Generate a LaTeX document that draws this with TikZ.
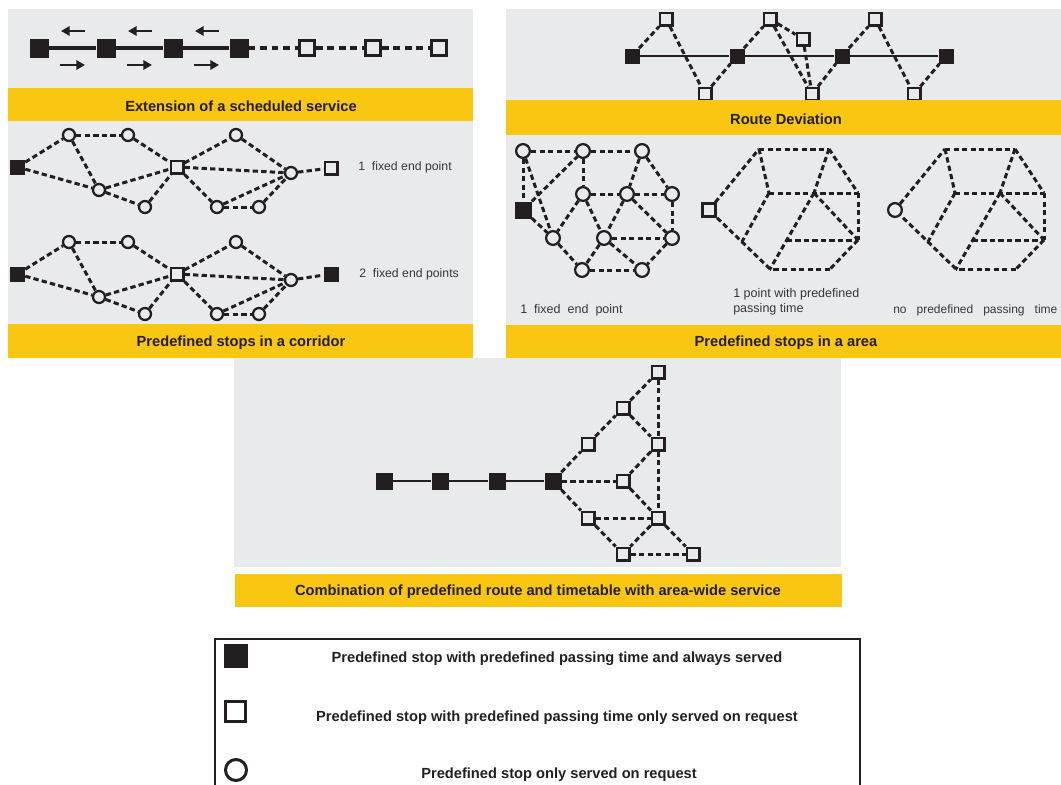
\documentclass[tikz,border=0pt]{standalone}
\usepackage{fontspec}
\setmainfont{Liberation Sans}
\usetikzlibrary{arrows.meta,calc}
\definecolor{panelgray}{RGB}{233,234,236}
\definecolor{bandyellow}{RGB}{249,198,18}
\definecolor{ink}{RGB}{35,31,32}
\definecolor{notegray}{RGB}{55,55,55}

\tikzset{
  fsq/.style={rectangle, fill=ink, draw=none, inner sep=0pt, minimum size=#1},
  fsq/.default=11.25pt,
  osq/.style={rectangle, draw=ink, fill=panelgray, line width=1.6pt, inner sep=0pt, minimum size=#1},
  osq/.default=9.65pt,
  ocirc/.style={circle, draw=ink, fill=panelgray, line width=1.7pt, inner sep=0pt, minimum size=#1},
  ocirc/.default=9pt,
  solidlink/.style={draw=ink, line width=1.7pt},
  dashlink/.style={draw=ink, line width=2.25pt, dash pattern=on 4pt off 2.4pt},
  bandtext/.style={font=\fontsize{11pt}{13pt}\selectfont\bfseries, text=ink, inner sep=0pt},
  note/.style={font=\fontsize{9.2pt}{11pt}\selectfont, text=notegray, anchor=west, inner sep=0pt, align=left},
  legendtext/.style={font=\fontsize{11pt}{13pt}\selectfont\bfseries, text=ink, inner sep=0pt},
  dirarrow/.style={draw=ink, line width=1.8pt, -{Triangle[length=6.5pt,width=7pt]}},
}

\begin{document}
\begin{tikzpicture}[x=0.75pt, y=-0.75pt]
\useasboundingbox (0,0) rectangle (1061,785);

% ---------- panel backgrounds ----------
\fill[panelgray] (8,9) rectangle (473,358);
\fill[panelgray] (506,9) rectangle (1061,358);
\fill[panelgray] (234,358) rectangle (841,567);

% ---------- extension of a scheduled service ----------
\begin{scope}[osq/.append style={line width=1.9pt, minimum size=11.6pt}]
  \node[fsq=14.25pt] (e1) at (39,48) {};
  \node[fsq=14.25pt] (e2) at (106,48) {};
  \node[fsq=14.25pt] (e3) at (173,48) {};
  \node[fsq=14.25pt] (e4) at (239,48) {};
  \node[osq] (e5) at (307,48) {};
  \node[osq] (e6) at (373,48) {};
  \node[osq] (e7) at (439,48) {};
\end{scope}
\draw[solidlink, line width=2.6pt] (e1) -- (e2) -- (e3) -- (e4);
\draw[dashlink, line width=2.5pt, dash pattern=on 5pt off 3.6pt] (e4) -- (e5);
\draw[dashlink, line width=2.5pt, dash pattern=on 5pt off 3.6pt] (e5) -- (e6);
\draw[dashlink, line width=2.5pt, dash pattern=on 5pt off 3.6pt] (e6) -- (e7);
\foreach \k/\xa in {1/61,2/128,3/195}{
  \coordinate (la\k) at (\xa,31);
  \coordinate (lb\k) at (\xa+24,31);
  \coordinate (ra\k) at (\xa-1,65);
  \coordinate (rb\k) at (\xa+24,65);
  \draw[dirarrow] (lb\k) -- (la\k);
  \draw[dirarrow] (ra\k) -- (rb\k);
}

% ---------- route deviation ----------
\node[fsq] (r1) at (632,56) {};
\node[fsq] (r2) at (737,56) {};
\node[fsq] (r3) at (842,56) {};
\node[fsq] (r4) at (946,56) {};
\node[osq] (t1) at (666,19) {};
\node[osq] (t2) at (770,19) {};
\node[osq] (t3) at (875,19) {};
\node[osq] (tx) at (803,39) {};
\node[osq] (b1) at (705,94) {};
\node[osq] (b2) at (812,94) {};
\node[osq] (b3) at (914,94) {};
\draw[solidlink] (r1) -- (r2) -- (r3) -- (r4);
\draw[dashlink] (r1) -- (t1);
\draw[dashlink] (t1) -- (b1);
\draw[dashlink] (b1) -- (r2);
\draw[dashlink] (r2) -- (t2);
\draw[dashlink] (t2) -- (b2);
\draw[dashlink] (t2) -- (tx);
\draw[dashlink] (tx) -- (b2);
\draw[dashlink] (b2) -- (r3);
\draw[dashlink] (r3) -- (t3);
\draw[dashlink] (t3) -- (b3);
\draw[dashlink] (b3) -- (r4);

% ---------- predefined stops in a corridor ----------
\foreach \dy/\tag in {0/u,107/w}{
  \node[fsq] (\tag L) at (17.5,167+\dy) {};
  \node[ocirc] (\tag c1) at (69,135+\dy) {};
  \node[ocirc] (\tag c2) at (128,135+\dy) {};
  \node[ocirc] (\tag c3) at (99,190+\dy) {};
  \node[ocirc] (\tag c4) at (145,207+\dy) {};
  \node[osq] (\tag S) at (177,167+\dy) {};
  \node[ocirc] (\tag c5) at (236,135+\dy) {};
  \node[ocirc] (\tag c6) at (217,207+\dy) {};
  \node[ocirc] (\tag c7) at (259,207+\dy) {};
  \node[ocirc] (\tag c8) at (291,173+\dy) {};
  \draw[dashlink] (\tag L) -- (\tag c1);
  \draw[dashlink] (\tag L) -- (\tag c3);
  \draw[dashlink] (\tag c1) -- (\tag c2);
  \draw[dashlink] (\tag c1) -- (\tag c3);
  \draw[dashlink] (\tag c3) -- (\tag S);
  \draw[dashlink] (\tag c3) -- (\tag c4);
  \draw[dashlink] (\tag c4) -- (\tag S);
  \draw[dashlink] (\tag c2) -- (\tag S);
  \draw[dashlink] (\tag S) -- (\tag c5);
  \draw[dashlink] (\tag S) -- (\tag c8);
  \draw[dashlink] (\tag S) -- (\tag c6);
  \draw[dashlink] (\tag c5) -- (\tag c8);
  \draw[dashlink] (\tag c6) -- (\tag c7);
  \draw[dashlink] (\tag c6) -- (\tag c8);
  \draw[dashlink] (\tag c7) -- (\tag c8);
}
\node[osq] (uR) at (331,168) {};
\node[fsq] (wR) at (331,274) {};
\draw[dashlink] (uc8) -- (uR);
\draw[dashlink] (wc8) -- (wR);
\node[note] (unote) at (358,167) {1\ \ fixed end point};
\node[note] (wnote) at (359,274) {2\ \ fixed end points};

% ---------- predefined stops in an area ----------
\begin{scope}[ocirc/.append style={minimum size=10.3pt}]
  \node[ocirc] (a1) at (523,151) {};
  \node[ocirc] (a2) at (583,151) {};
  \node[ocirc] (a3) at (642,151) {};
  \node[ocirc] (a4) at (583,194) {};
  \node[ocirc] (a5) at (627,194) {};
  \node[ocirc] (a6) at (672,194) {};
  \node[ocirc] (a7) at (553,238) {};
  \node[ocirc] (a8) at (604,238) {};
  \node[ocirc] (a9) at (672,238) {};
  \node[ocirc] (a10) at (582,270) {};
  \node[ocirc] (a11) at (642,270) {};
\end{scope}
\node[fsq=12.75pt] (aF) at (523,210) {};
\draw[dashlink] (a1) -- (a2);
\draw[dashlink] (a2) -- (a3);
\draw[dashlink] (a1) -- (aF);
\draw[dashlink] (a1) -- (a7);
\draw[dashlink] (aF) -- (a2);
\draw[dashlink] (aF) -- (a7);
\draw[dashlink] (a2) -- (a4);
\draw[dashlink] (a3) -- (a5);
\draw[dashlink] (a3) -- (a6);
\draw[dashlink] (a4) -- (a5);
\draw[dashlink] (a5) -- (a6);
\draw[dashlink] (a4) -- (a7);
\draw[dashlink] (a4) -- (a8);
\draw[dashlink] (a5) -- (a8);
\draw[dashlink] (a5) -- (a9);
\draw[dashlink] (a6) -- (a9);
\draw[dashlink] (a8) -- (a9);
\draw[dashlink] (a7) -- (a10);
\draw[dashlink] (a8) -- (a10);
\draw[dashlink] (a8) -- (a11);
\draw[dashlink] (a9) -- (a11);
\draw[dashlink] (a10) -- (a11);
\node[note, font=\fontsize{9.4pt}{11pt}\selectfont] (anote) at (520,310) {1\ \ fixed\ \ end\ \ point};

% two hexagonal service areas
\foreach \sx/\tag in {0/p,186/q}{
  \coordinate (\tag h1) at (759+\sx,149);
  \coordinate (\tag h2) at (829+\sx,149);
  \coordinate (\tag h3) at (858+\sx,193);
  \coordinate (\tag h4) at (858+\sx,240);
  \coordinate (\tag h5) at (830+\sx,269);
  \coordinate (\tag h6) at (770+\sx,269);
  \coordinate (\tag i1) at (769+\sx,193);
  \coordinate (\tag i2) at (814+\sx,193);
  \coordinate (\tag i4) at ($(\tag i2)!0.62!(\tag h6)$);
}
\node[osq, line width=2pt, minimum size=9.3pt] (pS) at (709,210) {};
\node[ocirc, minimum size=10.3pt] (qS) at (895,210) {};
\foreach \tag in {p,q}{
  \coordinate (\tag i3) at ($(\tag S.center)!0.54!(\tag h6)$);
  \draw[dashlink] (\tag S) -- (\tag h1);
  \draw[dashlink] (\tag h1) -- (\tag h2);
  \draw[dashlink] (\tag h2) -- (\tag h3);
  \draw[dashlink] (\tag h3) -- (\tag h4);
  \draw[dashlink] (\tag h4) -- (\tag h5);
  \draw[dashlink] (\tag h5) -- (\tag h6);
  \draw[dashlink] (\tag h6) -- (\tag S);
  \draw[dashlink] (\tag h1) -- (\tag i1);
  \draw[dashlink] (\tag i1) -- (\tag h3);
  \draw[dashlink] (\tag h2) -- (\tag i2);
  \draw[dashlink] (\tag i2) -- (\tag h6);
  \draw[dashlink] (\tag i1) -- (\tag i3);
  \draw[dashlink] (\tag i2) -- (\tag h4);
  \draw[dashlink] (\tag i4) -- (\tag i4 -| \tag h4);
}
\node[note, font=\fontsize{9.4pt}{11pt}\selectfont] (pnote) at (733,302) {1 point with predefined\\passing time};
\node[note, font=\fontsize{9pt}{11pt}\selectfont] (qnote) at (893,310) {no\ \ \ predefined\ \ \ passing\ \ \ time};

% ---------- combination of route and area-wide service ----------
\begin{scope}[fsq/.append style={minimum size=12.75pt}]
  \node[fsq] (k1) at (384,481) {};
  \node[fsq] (k2) at (440,481) {};
  \node[fsq] (k3) at (497,481) {};
  \node[fsq] (k4) at (553,481) {};
\end{scope}
\node[osq] (s1) at (658,372) {};
\node[osq] (s2) at (623,408) {};
\node[osq] (s3) at (588,444) {};
\node[osq] (s4) at (658,444) {};
\node[osq] (s5) at (623,481) {};
\node[osq] (s6) at (588,518) {};
\node[osq] (s7) at (658,518) {};
\node[osq] (s8) at (623,554) {};
\node[osq] (s9) at (693,554) {};
\draw[solidlink] (k1) -- (k2) -- (k3) -- (k4);
\draw[dashlink] (k4) -- (s3);
\draw[dashlink] (k4) -- (s5);
\draw[dashlink] (k4) -- (s6);
\draw[dashlink] (s3) -- (s2);
\draw[dashlink] (s2) -- (s1);
\draw[dashlink] (s1) -- (s4);
\draw[dashlink] (s2) -- (s4);
\draw[dashlink] (s4) -- (s5);
\draw[dashlink] (s4) -- (s7);
\draw[dashlink] (s5) -- (s7);
\draw[dashlink] (s6) -- (s7);
\draw[dashlink] (s6) -- (s8);
\draw[dashlink] (s7) -- (s8);
\draw[dashlink] (s7) -- (s9);
\draw[dashlink] (s8) -- (s9);

% ---------- yellow caption bands ----------
\fill[bandyellow] (8,88) rectangle (473,121);
\fill[bandyellow] (8,324) rectangle (473,358);
\fill[bandyellow] (506,100) rectangle (1061,135);
\fill[bandyellow] (506,325) rectangle (1061,358);
\fill[bandyellow] (235,574) rectangle (842,607);
\node[bandtext] (cap1) at (241,106) {Extension of a scheduled service};
\node[bandtext] (cap2) at (241,343) {Predefined stops in a corridor};
\node[bandtext] (cap3) at (786,119) {Route Deviation};
\node[bandtext] (cap4) at (786,343) {Predefined stops in a area};
\node[bandtext] (cap5) at (538,592) {Combination of predefined route and timetable with area-wide service};

% ---------- legend ----------
\draw[ink, line width=1.5pt] (215,786) -- (215,639) -- (860,639) -- (860,786);
\node[fsq=18pt] (lg1) at (235.5,656) {};
\node[osq, fill=white, line width=2.25pt, minimum size=15pt] (lg2) at (235.5,711.5) {};
\node[ocirc, fill=white, line width=2.25pt, minimum size=15.75pt] (lg3) at (236,770) {};
\node[legendtext] (lt1) at (557,659) {Predefined stop with predefined passing time and always served};
\node[legendtext] (lt2) at (557,718) {Predefined stop with predefined passing time only served on request};
\node[legendtext] (lt3) at (559,775) {Predefined stop only served on request};
\end{tikzpicture}
\end{document}
